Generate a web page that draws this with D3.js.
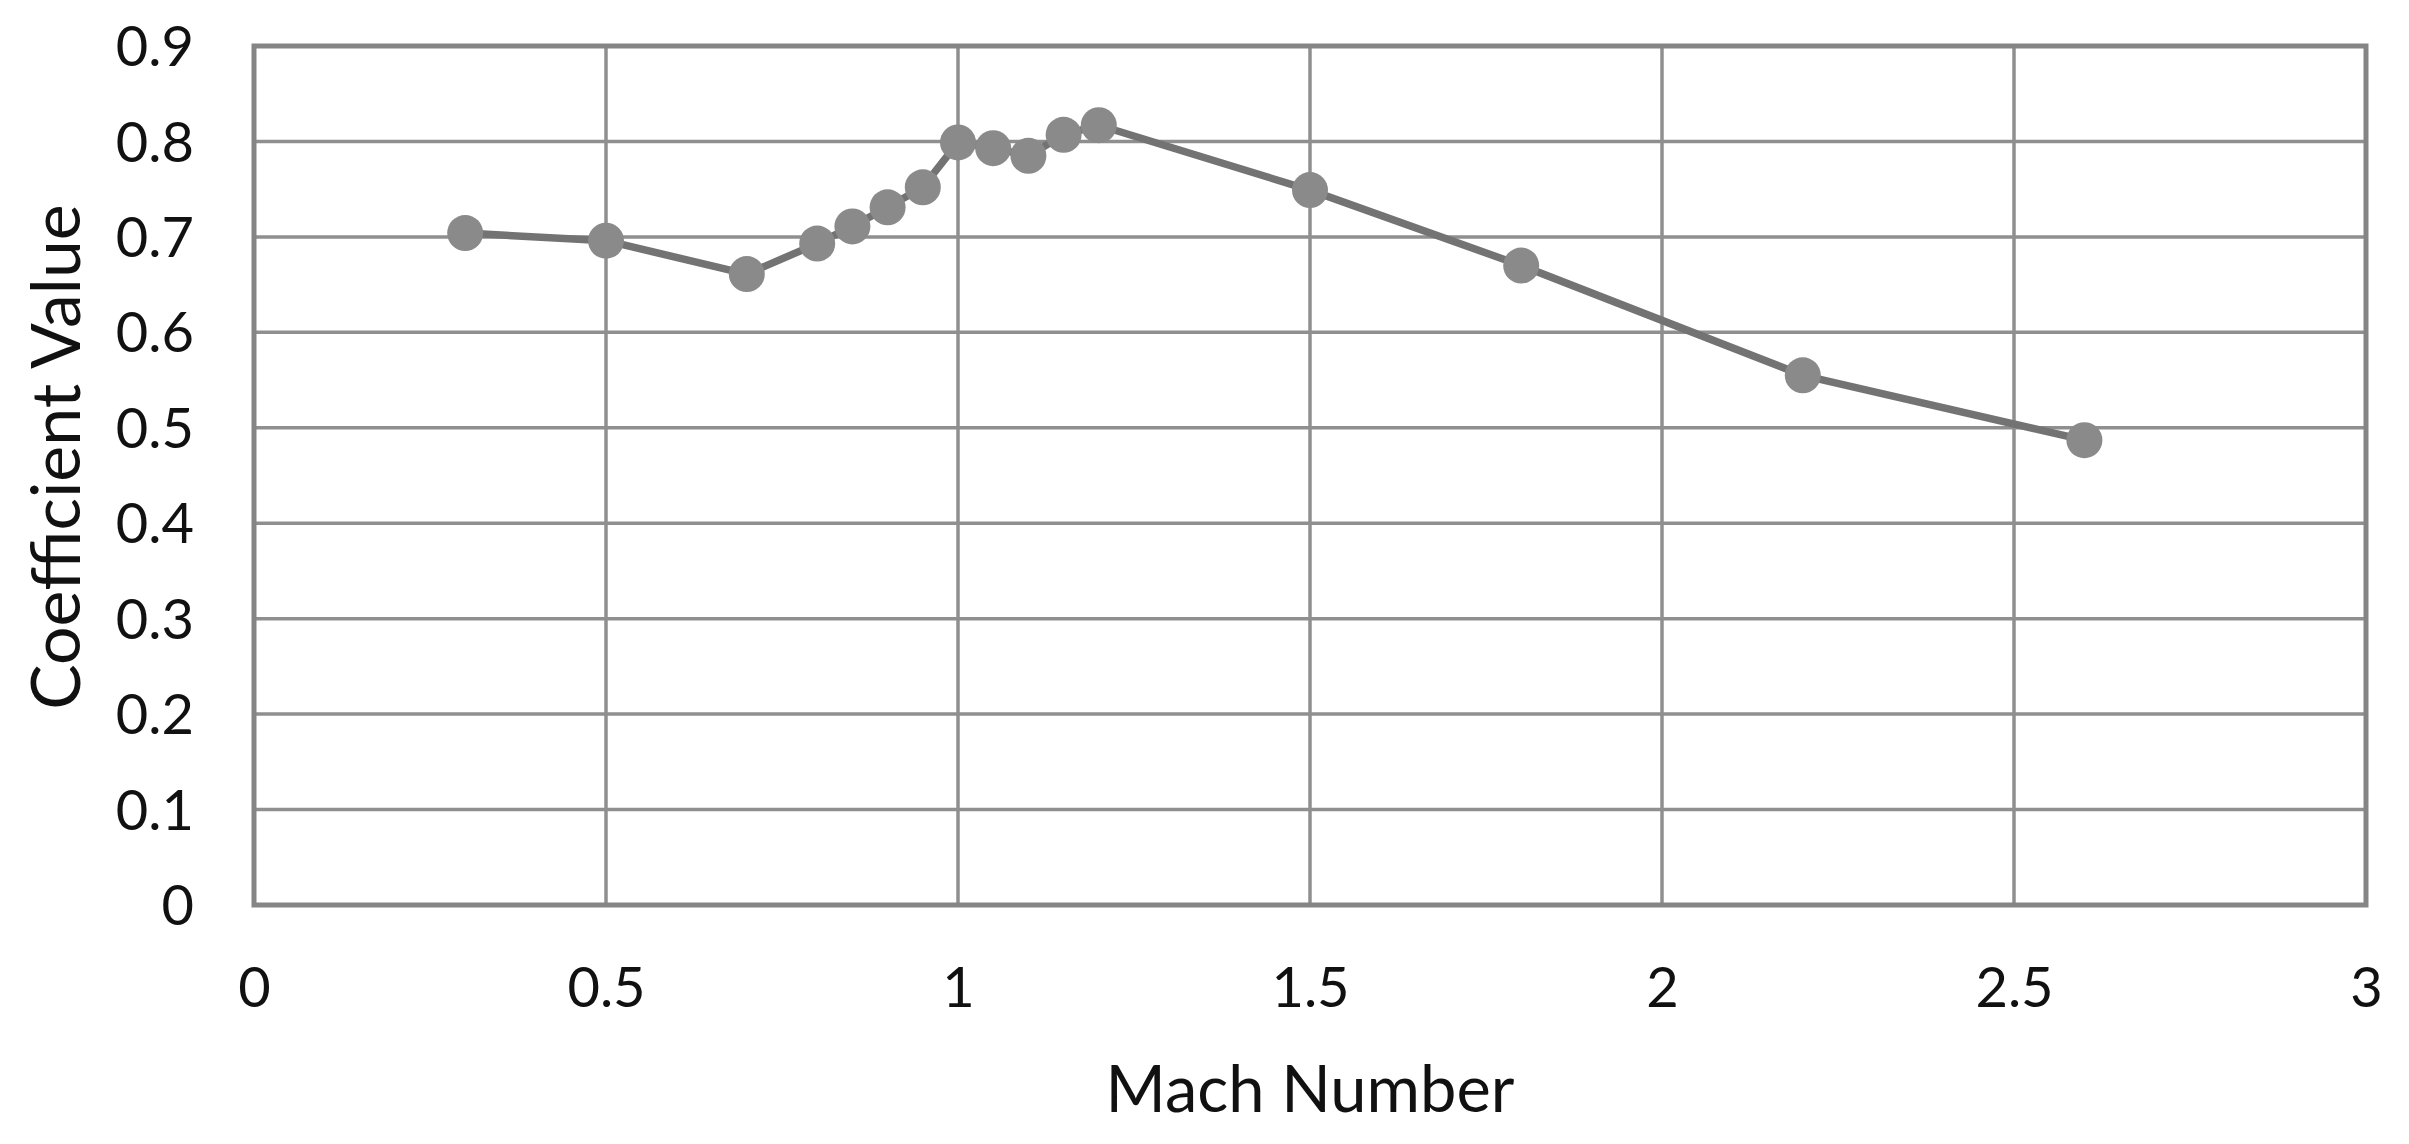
<!DOCTYPE html>
<html>
<head>
<meta charset="utf-8">
<script src="https://cdn.jsdelivr.net/npm/d3@7"></script>
<style>
  body { margin: 0; background: #fff; }
  text { font-family: Lato, "Open Sans", sans-serif; fill: #111; }
</style>
</head>
<body>
<svg id="chart"></svg>
<script>
// data
let mach = [0.3, 0.5, 0.7, 0.8, 0.85, 0.9, 0.95, 1.0, 1.05, 1.1, 1.15, 1.2, 1.5, 1.8, 2.2, 2.6]
let coef = [0.704, 0.696, 0.661, 0.693, 0.711, 0.731, 0.752, 0.799, 0.793, 0.785, 0.807, 0.817, 0.749, 0.670, 0.555, 0.487]
let xTicks = [0, 0.5, 1, 1.5, 2, 2.5, 3]
let yTicks = [0, 0.1, 0.2, 0.3, 0.4, 0.5, 0.6, 0.7, 0.8, 0.9]

let W = 2409, H = 1144
let m = {left: 254, right: 2366, top: 46, bottom: 905}

let svg = d3.select('#chart').attr('width', W).attr('height', H)

let x = d3.scaleLinear().domain([0, 3]).range([m.left, m.right])
let y = d3.scaleLinear().domain([0, 0.9]).range([m.bottom, m.top])

// grid
let grid = svg.append('g').attr('class', 'grid')
grid.selectAll('.hline').data(yTicks).enter().append('line')
  .attr('x1', m.left).attr('x2', m.right)
  .attr('y1', d => y(d)).attr('y2', d => y(d))
  .attr('stroke', '#8f8f8f').attr('stroke-width', 3.5)
grid.selectAll('.vline').data(xTicks).enter().append('line')
  .attr('y1', m.top).attr('y2', m.bottom)
  .attr('x1', d => x(d)).attr('x2', d => x(d))
  .attr('stroke', '#8f8f8f').attr('stroke-width', 3.5)

// frame
svg.append('rect')
  .attr('x', m.left).attr('y', m.top)
  .attr('width', m.right - m.left).attr('height', m.bottom - m.top)
  .attr('fill', 'none').attr('stroke', '#858585').attr('stroke-width', 5)

// axes, labels only
let xAxis = svg.append('g').attr('transform', `translate(0,${m.bottom})`)
  .call(d3.axisBottom(x).tickValues(xTicks).tickSize(0).tickPadding(0).tickFormat(d3.format('')))
xAxis.select('.domain').remove()
xAxis.selectAll('text').attr('dy', null).attr('y', 102)
  .style('font-size', '56px').attr('fill', '#111')

let yAxis = svg.append('g').attr('transform', `translate(${m.left},0)`)
  .call(d3.axisLeft(y).tickValues(yTicks).tickSize(0).tickPadding(0).tickFormat(d3.format('')))
yAxis.select('.domain').remove()
yAxis.selectAll('text').attr('x', -60).attr('dy', '0.35em')
  .style('font-size', '56px').attr('fill', '#111')

// titles
svg.append('text').text('Mach Number')
  .attr('x', (m.left + m.right) / 2).attr('y', 1112)
  .attr('text-anchor', 'middle').style('font-size', '65px')
svg.append('text').text('Coefficient Value')
  .attr('transform', 'translate(80,457) rotate(-90)')
  .attr('text-anchor', 'middle').style('font-size', '68px')

// series
let pts = mach.map((d, i) => ({x: d, y: coef[i]}))
let line = d3.line().x(d => x(d.x)).y(d => y(d.y))
svg.append('path').datum(pts)
  .attr('d', line)
  .attr('fill', 'none').attr('stroke', '#737373').attr('stroke-width', 7.5)
  .attr('stroke-linejoin', 'round')
svg.selectAll('.dot').data(pts).enter().append('circle')
  .attr('cx', d => x(d.x)).attr('cy', d => y(d.y)).attr('r', 18)
  .attr('fill', '#8a8a8a')
</script>
</body>
</html>
